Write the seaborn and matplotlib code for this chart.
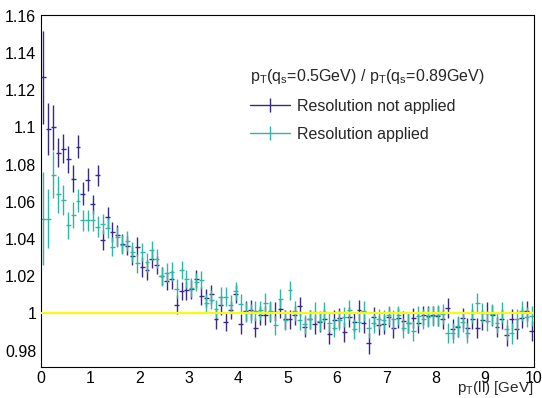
import numpy as np
import matplotlib
matplotlib.use("Agg")
import matplotlib.pyplot as plt
from matplotlib.lines import Line2D
from matplotlib.ticker import MultipleLocator
import seaborn as sns

# histogram binning: 100 bins of 0.1 GeV in pT(ll)
x_min, x_max, n_bins = 0.0, 10.0, 100

# ratio pT(qs=0.5GeV) / pT(qs=0.89GeV)
ratio_no_res = [
    1.127, 1.099, 1.100, 1.0865, 1.0887, 1.0828, 1.0725, 1.0897, 1.0645, 1.072,
    1.0586, 1.0743, 1.0394, 1.0516, 1.0437, 1.042, 1.0376, 1.0365, 1.031, 1.036,
    1.025, 1.0233, 1.0295, 1.026, 1.0202, 1.0174, 1.0183, 1.0048, 1.012, 1.0124,
    1.0129, 1.0186, 1.0093, 1.0084, 1.0102, 0.9968, 1.0043, 0.9953, 1.0018, 1.0104,
    0.9944, 1.0013, 1.0018, 0.9923, 0.9989, 0.9989, 1.0007, 1.001, 1.0025, 0.9968,
    0.9968, 0.9989, 1.0039, 0.9928, 0.9968, 0.9941, 0.9953, 0.9971, 0.9887, 0.9965,
    0.9977, 0.9901, 0.9982, 0.9953, 1.0018, 0.9946, 0.9839, 0.9982, 0.9936, 0.9941,
    0.9982, 0.9923, 0.9977, 0.9959, 0.995, 0.9977, 0.995, 0.9989, 0.9986, 0.9989,
    0.9986, 0.9971, 1.003, 0.9918, 0.9928, 0.9977, 0.9923, 0.9971, 0.9923, 0.9964,
    1.0004, 0.9989, 0.9928, 0.9971, 0.9882, 0.9968, 0.9918, 0.9977, 1.0013, 0.9905,
]
err_no_res = [
    0.025, 0.014, 0.012, 0.008, 0.008, 0.0071, 0.0071, 0.0062, 0.0062, 0.006,
    0.0053, 0.0058, 0.0055, 0.0055, 0.0055, 0.0055, 0.0052, 0.0052, 0.0052, 0.0052,
    0.0052, 0.0052, 0.0052, 0.005, 0.005, 0.005, 0.005, 0.005, 0.005, 0.005,
    0.005, 0.005, 0.005, 0.005, 0.005, 0.005, 0.005, 0.005, 0.005, 0.005,
    0.0052, 0.0052, 0.0052, 0.0052, 0.0052, 0.0052, 0.0052, 0.0052, 0.0052, 0.0052,
    0.0052, 0.0052, 0.0052, 0.0052, 0.0052, 0.0052, 0.0052, 0.0052, 0.0052, 0.0052,
    0.0053, 0.0053, 0.0053, 0.0053, 0.0053, 0.0053, 0.0055, 0.0053, 0.0053, 0.0053,
    0.0053, 0.0053, 0.0053, 0.0053, 0.0053, 0.0053, 0.0053, 0.0053, 0.0053, 0.0053,
    0.0054, 0.0054, 0.0054, 0.0054, 0.0054, 0.0054, 0.0054, 0.0054, 0.0054, 0.0054,
    0.0055, 0.0055, 0.0055, 0.0055, 0.0055, 0.0055, 0.0055, 0.0055, 0.0055, 0.0055,
]

ratio_res = [
    1.051, 1.051, 1.0747, 1.064, 1.0609, 1.0473, 1.0528, 1.0607, 1.050, 1.050,
    1.050, 1.0467, 1.048, 1.046, 1.036, 1.041, 1.037, 1.039, 1.033, 1.027,
    1.033, 1.0274, 1.034, 1.0294, 1.020, 1.0219, 1.0224, 1.0134, 1.0233, 1.0186,
    1.0138, 1.017, 1.0179, 1.0057, 1.0075, 1.0025, 1.009, 1.009, 1.0048, 1.012,
    1.0052, 1.0007, 1.000, 1.0013, 1.0016, 1.0057, 1.0013, 0.9936, 1.0079, 0.9964,
    1.0125, 1.0013, 0.9963, 0.9941, 0.9968, 1.0007, 0.9959, 1.0007, 0.995, 0.9923,
    0.9964, 0.9982, 1.0018, 0.9918, 0.9953, 1.0013, 0.9923, 0.9946, 0.9971, 0.9964,
    0.9989, 0.9968, 0.9989, 0.9923, 0.995, 0.9905, 0.9986, 0.9971, 0.9982, 0.9986,
    0.9989, 0.9995, 0.9893, 0.9896, 0.993, 0.9953, 0.9893, 1.000, 1.0054, 1.000,
    0.9959, 0.9995, 0.995, 1.0004, 0.9914, 0.9893, 0.9968, 1.0013, 0.9982, 0.9986,
]
err_res = [
    0.025, 0.016, 0.0125, 0.0098, 0.008, 0.0071, 0.0071, 0.0062, 0.0058, 0.0058,
    0.0058, 0.0055, 0.0055, 0.0055, 0.0053, 0.0053, 0.0052, 0.0052, 0.0052, 0.0052,
    0.005, 0.005, 0.005, 0.005, 0.005, 0.005, 0.005, 0.005, 0.005, 0.005,
    0.005, 0.005, 0.005, 0.005, 0.005, 0.005, 0.005, 0.005, 0.005, 0.005,
    0.0052, 0.0052, 0.0052, 0.0052, 0.0052, 0.0052, 0.0052, 0.0052, 0.0052, 0.0052,
    0.0052, 0.0052, 0.0052, 0.0052, 0.0052, 0.0052, 0.0052, 0.0052, 0.0052, 0.0052,
    0.0053, 0.0053, 0.0053, 0.0053, 0.0053, 0.0053, 0.0053, 0.0053, 0.0053, 0.0053,
    0.0053, 0.0053, 0.0053, 0.0053, 0.0053, 0.0053, 0.0053, 0.0053, 0.0053, 0.0053,
    0.0054, 0.0054, 0.0054, 0.0054, 0.0054, 0.0054, 0.0054, 0.0054, 0.0054, 0.0054,
    0.0055, 0.0055, 0.0055, 0.0055, 0.0055, 0.0055, 0.0055, 0.0055, 0.0055, 0.0055,
]

reference_level = 1.0

legend_title = r"p$_T$(q$_s$=0.5GeV) / p$_T$(q$_s$=0.89GeV)"
labels = ["Resolution not applied", "Resolution applied"]
colors = ["#352a87", "#2eb7a4"]
line_color = "#f9fb0e"

sns.set_style("white")
plt.rcParams["font.family"] = ["Liberation Sans", "DejaVu Sans"]
plt.rcParams["mathtext.default"] = "regular"

bin_width = (x_max - x_min) / n_bins
x_centers = x_min + bin_width * (np.arange(n_bins) + 0.5)

fig = plt.figure(figsize=(5.42, 3.98), dpi=100)
ax = fig.add_axes([41 / 542, 31 / 398, 493 / 542, 352 / 398])

for vals, errs, c in [(ratio_no_res, err_no_res, colors[0]), (ratio_res, err_res, colors[1])]:
    ax.errorbar(x_centers, vals, yerr=errs, xerr=bin_width / 2, fmt="none",
                ecolor=c, elinewidth=1.0, capsize=0, zorder=2)

ax.axhline(reference_level, color=line_color, lw=1.6, zorder=3)

ax.set_xlim(x_min, x_max)
ax.set_ylim(0.9712, 1.1605)

ax.xaxis.set_major_locator(MultipleLocator(1))
ax.xaxis.set_minor_locator(MultipleLocator(0.2))
ax.yaxis.set_major_locator(MultipleLocator(0.02))
ax.yaxis.set_minor_locator(MultipleLocator(0.005))
ax.yaxis.set_major_formatter(plt.FuncFormatter(lambda v, p: f"{v:.2f}".rstrip("0").rstrip(".")))

ax.tick_params(axis="both", which="both", direction="in", colors="black",
               top=False, right=False, labelsize=11.5)
ax.tick_params(axis="y", which="major", length=10.8, width=0.8, pad=3.5)
ax.tick_params(axis="y", which="minor", length=5.2, width=0.8)
ax.tick_params(axis="x", which="major", length=7.2, width=0.8, pad=3)
ax.tick_params(axis="x", which="minor", length=3.6, width=0.8)

for sp in ax.spines.values():
    sp.set_color("black")
    sp.set_linewidth(0.8)

ax.set_xlabel(r"p$_T$(ll) [GeV]", loc="right", fontsize=11, labelpad=-5)

handles = [Line2D([], [], color=c, lw=1.0, marker="|", markersize=10, markeredgewidth=1.0)
           for c in colors]
leg = ax.legend(handles, labels, title=legend_title, loc="upper left",
                bbox_to_anchor=(247 / 542, (398 - 64) / 398), bbox_transform=fig.transFigure,
                frameon=False, fontsize=11.5, title_fontsize=11.5, borderpad=0.2,
                borderaxespad=0, handlelength=2.5, handletextpad=0.4, labelspacing=0.8,
                alignment="left", numpoints=1)

fig.savefig("out.png", dpi=100)
